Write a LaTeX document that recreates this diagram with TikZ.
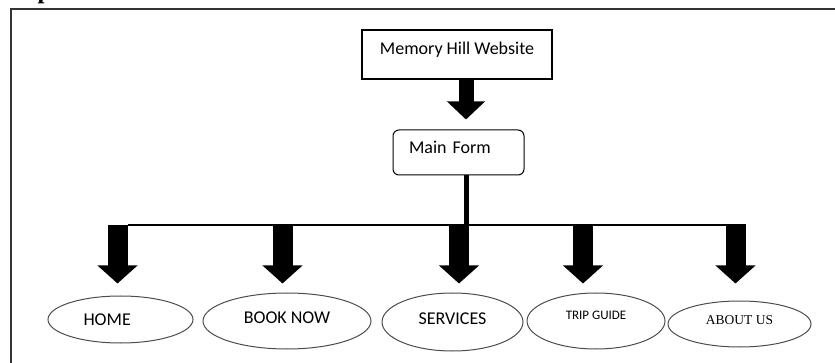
\documentclass[tikz,border=0pt]{standalone}
\usepackage{fontspec}
\setmainfont{Carlito}
\newfontfamily\timesfont{Liberation Serif}
\usetikzlibrary{arrows.meta, shapes.geometric}

\begin{document}
\begin{tikzpicture}[
  x=1pt, y=-1pt,
  font=\fontsize{18}{21}\selectfont,
  sheet/.style={draw=black!80, line width=2.4pt},
  topbox/.style={draw, line width=1.5pt, minimum width=190pt, minimum height=49pt,
                 inner sep=0pt, text height=12pt, text depth=11pt},
  formbox/.style={draw, line width=1pt, rounded corners=6pt, text width=99pt,
                  inner xsep=16pt, inner ysep=0pt, minimum height=45pt,
                  text height=12pt, text depth=9pt, align=left},
  page/.style={ellipse, draw=black!70, line width=1pt, inner sep=0pt},
  fat/.style={line width=20pt, -{Triangle[length=18pt, width=39pt]}},
  stem/.style={line width=5pt},
  bar/.style={line width=1.2pt}
]
\useasboundingbox (0,0) rectangle (835,363);

%% ---------- heading and frame ----------
\node[font=\timesfont\bfseries\fontsize{25}{28}\selectfont, anchor=base west,
      inner sep=0pt] (title) at (7,-1) {Implementation};
\draw[sheet] (11,375) -- (11,9) -- (850,9);

%% ---------- top ----------
\node[topbox] (web) at (457,54.5) {Memory Hill Website};
\node[formbox] (form) at (458.5,152.5) {Main Form};

\coordinate (hub) at (466,225);
\coordinate (b1) at (117.5,225);
\coordinate (b2) at (282.5,225);
\coordinate (b3) at (459,225);
\coordinate (b4) at (583,225);
\coordinate (b5) at (735.5,225);

%% ---------- pages ----------
\node[page, minimum width=145pt, minimum height=47pt, text width=74pt,
      align=left] (home) at (120.5,319.5) {HOME};
\node[page, minimum width=168pt, minimum height=56pt,
      text depth=7.5pt] (book) at (287,321) {BOOK NOW};
\node[page, minimum width=141pt, minimum height=58pt,
      text depth=7.5pt] (services) at (452.5,322) {SERVICES};
\node[page, minimum width=138pt, minimum height=56pt, text depth=12pt,
      font=\fontsize{13}{15}\selectfont] (guide) at (596,321) {TRIP GUIDE};
\node[page, minimum width=143pt, minimum height=46pt, text depth=7pt,
      font=\timesfont\fontsize{13.5}{15}\selectfont] (about) at (739.5,324) {ABOUT US};

%% ---------- arrows ----------
\draw[fat, line width=15pt, -{Triangle[length=18pt, width=37pt]}, shorten >=10pt]
  (web.south -| hub) -- (form.north -| hub);
\draw[stem] (form.south -| hub) -- (hub);
\draw[bar] ([xshift=10pt]b1) -- ([xshift=10pt]b5);
\foreach \b/\n/\s in {b1/home/12pt, b2/book/9pt, b3/services/9pt,
                      b4/guide/9pt, b5/about/17pt}
  \draw[fat, shorten >=\s] (\b) -- (\b |- \n.north);
\end{tikzpicture}
\end{document}
